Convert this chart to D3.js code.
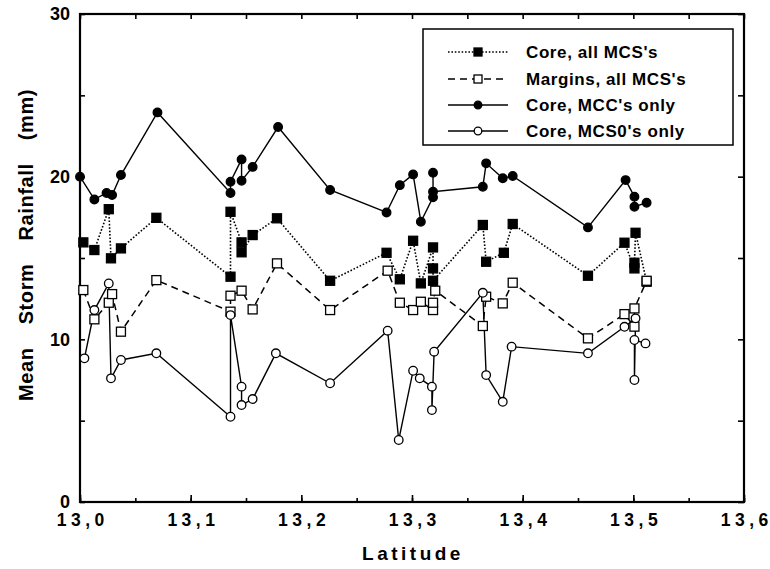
<!DOCTYPE html>
<html lang="en">
<head>
<meta charset="UTF-8">
<title>storm rainfall vs latitude</title>
<script src="https://d3js.org/d3.v7.min.js"></script>
<style>
    body { margin: 0; background: #fff; }
    text { font-family: "Liberation Sans", Arial, Helvetica, sans-serif; font-weight: bold; fill: #000; }
    .domain { display: none; }
</style>
</head>
<body>
<svg id="chart" width="770" height="569"></svg>
<script>
    // values
    let xTicks = [13.0, 13.1, 13.2, 13.3, 13.4, 13.5, 13.6];
    let xTickLabels = ["13,0", "13,1", "13,2", "13,3", "13,4", "13,5", "13,6"];
    let yTicks = [0, 10, 20, 30];

    let coreAllLat = [13.003, 13.013, 13.026, 13.028, 13.037, 13.069, 13.136, 13.136, 13.146, 13.146, 13.156, 13.178, 13.226, 13.277, 13.289, 13.301, 13.308, 13.319, 13.319, 13.319, 13.364, 13.367, 13.383, 13.391, 13.459, 13.492, 13.501, 13.501, 13.502, 13.512];
    let coreAllVal = [15.96, 15.49, 18.0, 14.98, 15.59, 17.47, 13.85, 17.84, 15.96, 15.35, 16.41, 17.44, 13.6, 15.32, 13.69, 16.06, 13.44, 15.65, 14.36, 13.6, 17.03, 14.77, 15.32, 17.09, 13.91, 15.94, 14.36, 14.71, 16.55, 13.54];

    let marginLat = [13.003, 13.013, 13.026, 13.029, 13.037, 13.069, 13.136, 13.136, 13.146, 13.156, 13.178, 13.226, 13.278, 13.289, 13.301, 13.308, 13.319, 13.319, 13.321, 13.364, 13.367, 13.382, 13.391, 13.459, 13.492, 13.501, 13.501, 13.512];
    let marginVal = [13.03, 11.23, 12.25, 12.78, 10.47, 13.64, 11.7, 12.68, 12.99, 11.84, 14.67, 11.8, 14.22, 12.25, 11.8, 12.31, 11.8, 12.25, 12.99, 10.82, 12.62, 12.21, 13.48, 10.06, 11.55, 10.78, 11.9, 13.6];

    let mccLat = [13.000, 13.013, 13.024, 13.029, 13.037, 13.070, 13.136, 13.136, 13.146, 13.146, 13.156, 13.179, 13.226, 13.277, 13.289, 13.301, 13.308, 13.319, 13.319, 13.319, 13.364, 13.367, 13.382, 13.391, 13.459, 13.493, 13.501, 13.501, 13.512];
    let mccVal = [20.0, 18.6, 19.0, 18.87, 20.1, 23.95, 19.0, 19.69, 21.06, 19.75, 20.6, 23.05, 19.18, 17.8, 19.48, 20.14, 17.23, 18.73, 20.24, 19.07, 19.38, 20.82, 19.9, 20.04, 16.88, 19.79, 18.77, 18.15, 18.4];

    let mcs0Lat = [13.004, 13.013, 13.026, 13.028, 13.037, 13.069, 13.136, 13.136, 13.146, 13.146, 13.156, 13.177, 13.226, 13.278, 13.288, 13.301, 13.307, 13.318, 13.318, 13.320, 13.364, 13.367, 13.382, 13.390, 13.459, 13.492, 13.502, 13.501, 13.501, 13.511];
    let mcs0Val = [8.83, 11.8, 13.44, 7.6, 8.73, 9.14, 5.24, 11.49, 7.09, 5.96, 6.33, 9.14, 7.3, 10.53, 3.81, 8.07, 7.6, 7.09, 5.65, 9.24, 12.86, 7.8, 6.16, 9.55, 9.14, 10.77, 11.29, 7.5, 9.96, 9.75];

    let seriesNames = ["Core, all MCS's", "Margins, all MCS's", "Core, MCC's only", "Core, MCS0's only"];

    let svg = d3.select("#chart");
    let pLeft = 80, pRight = 744, pTop = 14, pBottom = 502;

    let x = d3.scaleLinear().domain([13.0, 13.6]).range([pLeft, pRight]);
    let y = d3.scaleLinear().domain([0, 30]).range([pBottom, pTop]);

    let minorX = d3.range(0, 13).map(i => 13.0 + i * 0.05);
    let minorY = d3.range(0, 7).map(i => i * 5);

    // tick marks, all pointing inwards
    svg.append("g").attr("transform", `translate(0,${pBottom})`)
        .call(d3.axisBottom(x).tickValues(minorX).tickSize(-4).tickFormat(""));
    svg.append("g").attr("transform", `translate(0,${pBottom})`)
        .call(d3.axisBottom(x).tickValues(xTicks).tickSize(-7).tickFormat(""));
    svg.append("g").attr("transform", `translate(0,${pTop})`)
        .call(d3.axisTop(x).tickValues(minorX).tickSize(-5).tickFormat(""));
    svg.append("g").attr("transform", `translate(${pLeft},0)`)
        .call(d3.axisLeft(y).tickValues(minorY).tickSize(-5).tickFormat(""));
    svg.append("g").attr("transform", `translate(${pRight},0)`)
        .call(d3.axisRight(y).tickValues(minorY).tickSize(-6).tickFormat(""));
    svg.selectAll(".tick line").attr("stroke", "#000").attr("stroke-width", 1.6);

    // frame
    svg.append("rect")
        .attr("x", pLeft).attr("y", pTop)
        .attr("width", pRight - pLeft).attr("height", pBottom - pTop)
        .attr("fill", "none").attr("stroke", "#000").attr("stroke-width", 2.2);

    // tick labels (spaced out, last glyph without trailing spacing)
    let xl = svg.append("g").attr("transform", `translate(0,${pBottom})`)
        .call(d3.axisBottom(x).tickValues(xTicks).tickSize(0).tickPadding(12)
            .tickFormat(""));
    xl.selectAll(".tick text").each(function (d, i) {
        let t = d3.select(this).style("font-size", "17.5px");
        let lab = xTickLabels[i];
        t.append("tspan").style("letter-spacing", "4.5px").text(lab.slice(0, -1));
        t.append("tspan").text(lab.slice(-1));
    });

    let yl = svg.append("g").attr("transform", `translate(${pLeft},0)`)
        .call(d3.axisLeft(y).tickValues(yTicks).tickSize(0).tickPadding(10));
    yl.selectAll("text").style("font-size", "18px");

    // axis titles
    svg.append("text")
        .attr("x", 413).attr("y", 560)
        .attr("text-anchor", "middle")
        .style("font-size", "19px").style("letter-spacing", "3.5px")
        .text("Latitude");

    svg.append("text")
        .attr("transform", "translate(33,245) rotate(-90)")
        .attr("text-anchor", "middle")
        .style("font-size", "20px").style("word-spacing", "17px").style("letter-spacing", "0.6px")
        .text("Mean Storm Rainfall (mm)");

    // series
    let series = [
        {lat: coreAllLat, val: coreAllVal, dash: "1.6,1.8", width: 1.6, marker: "square", fill: "#000"},
        {lat: marginLat, val: marginVal, dash: "7,5", width: 1.5, marker: "square", fill: "#fff"},
        {lat: mccLat, val: mccVal, dash: null, width: 1.4, marker: "circle", fill: "#000"},
        {lat: mcs0Lat, val: mcs0Val, dash: null, width: 1.4, marker: "circle", fill: "#fff"}
    ];

    let line = d3.line().x(d => x(d[0])).y(d => y(d[1]));

    series.forEach(function (s) {
        let pts = d3.zip(s.lat, s.val);
        svg.append("path")
            .datum(pts)
            .attr("d", line)
            .attr("fill", "none")
            .attr("stroke", "#000")
            .attr("stroke-width", s.width)
            .attr("stroke-dasharray", s.dash);
    });

    function drawMarker(g, s, px, py) {
        if (s.marker === "square") {
            g.append("rect")
                .attr("x", px - 4.5).attr("y", py - 4.5)
                .attr("width", 9).attr("height", 9)
                .attr("fill", s.fill).attr("stroke", "#000").attr("stroke-width", 1.3);
        } else {
            g.append("circle")
                .attr("cx", px).attr("cy", py).attr("r", 4.3)
                .attr("fill", s.fill).attr("stroke", "#000").attr("stroke-width", 1.3);
        }
    }

    series.forEach(function (s) {
        let g = svg.append("g");
        d3.zip(s.lat, s.val).forEach(d => drawMarker(g, s, x(d[0]), y(d[1])));
    });

    // legend
    let lg = svg.append("g");
    lg.append("rect")
        .attr("x", 423).attr("y", 29).attr("width", 310).attr("height", 116)
        .attr("fill", "#fff").attr("stroke", "#000").attr("stroke-width", 1.5);
    let rowY = [52, 79, 105, 131];
    series.forEach(function (s, i) {
        lg.append("line")
            .attr("x1", 448).attr("x2", 508)
            .attr("y1", rowY[i]).attr("y2", rowY[i])
            .attr("stroke", "#000").attr("stroke-width", s.width)
            .attr("stroke-dasharray", s.dash);
        let m = lg.append("g");
        if (s.marker === "square") {
            m.append("rect")
                .attr("x", 478 - 4).attr("y", rowY[i] - 4)
                .attr("width", 8).attr("height", 8)
                .attr("fill", s.fill).attr("stroke", "#000").attr("stroke-width", 1.3);
        } else {
            m.append("circle")
                .attr("cx", 478).attr("cy", rowY[i]).attr("r", 3.8)
                .attr("fill", s.fill).attr("stroke", "#000").attr("stroke-width", 1.3);
        }
        lg.append("text")
            .attr("x", 526).attr("y", rowY[i]).attr("dy", "0.35em")
            .style("font-size", "17px").style("letter-spacing", "0.6px")
            .text(seriesNames[i]);
    });
</script>
</body>
</html>
